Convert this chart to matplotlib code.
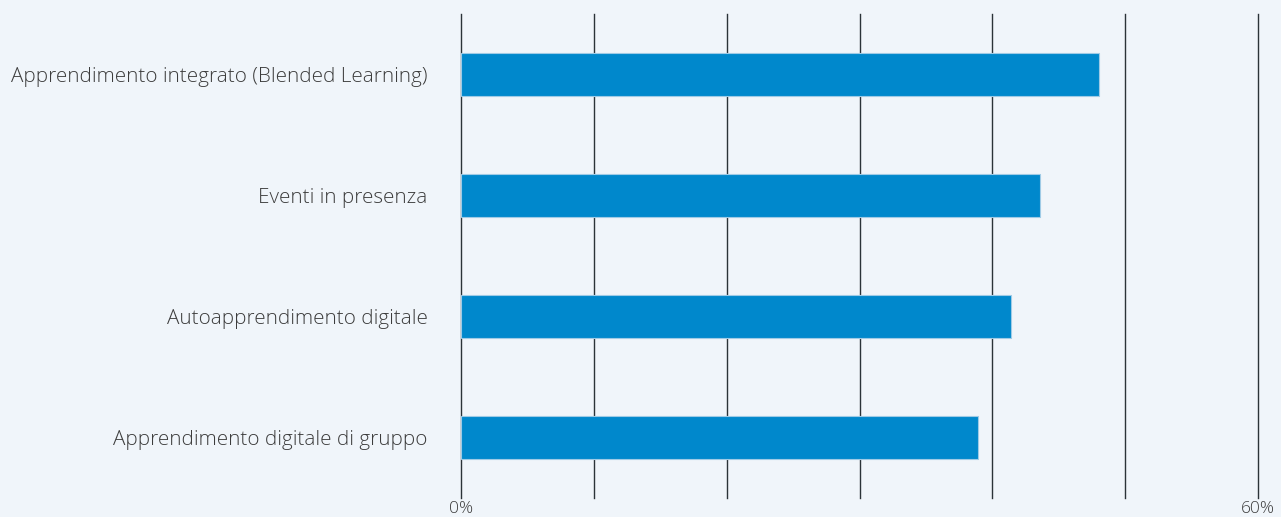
import matplotlib.pyplot as plt
from matplotlib.ticker import FixedLocator

# --- Dati ---
categories = [
	"Apprendimento integrato (Blended Learning)",
	"Eventi in presenza",
	"Autoapprendimento digitale",
	"Apprendimento digitale di gruppo",
]
values = [48.0, 43.6, 41.4, 38.9]
grid_ticks = [0, 10, 20, 30, 40, 50, 60]
tick_labels = ["0%", "", "", "", "", "", "60%"]

BG = "#f0f5fa"
BAR = "#0088cc"
TEXT = "#3c3c3c"

plt.rcParams["font.family"] = ["Open Sans", "DejaVu Sans"]

fig = plt.figure(figsize=(12.81, 5.17), dpi=100, facecolor=BG)
ax = fig.add_axes([461 / 1281, 1 - 498 / 517, (1258 - 461) / 1281, (498 - 14) / 517])
ax.set_facecolor(BG)

ypos = list(range(len(categories)))
ax.barh(ypos, values, height=0.355, color=BAR, edgecolor="#9fcbe6", linewidth=0.8, zorder=3)

ax.set_xlim(0, 60)
ax.set_ylim(len(categories) - 0.5, -0.5)

ax.xaxis.set_major_locator(FixedLocator(grid_ticks))
ax.set_xticklabels(tick_labels, fontsize=12.5, color=TEXT, fontweight=300)
# linee verticali ogni 10%, non tagliate al bordo dell'asse
for g in grid_ticks:
	ax.axvline(g, color="#2b3338", linewidth=1.0, zorder=1, clip_on=False)

ax.set_yticks(ypos)
ax.set_yticklabels(categories, fontsize=14.9, color=TEXT, fontweight=300)
ax.tick_params(axis="both", length=0)
ax.tick_params(axis="y", pad=24)
ax.tick_params(axis="x", pad=2)

for s in ax.spines.values():
	s.set_visible(False)

fig.savefig("out.png", dpi=100, facecolor=BG)
